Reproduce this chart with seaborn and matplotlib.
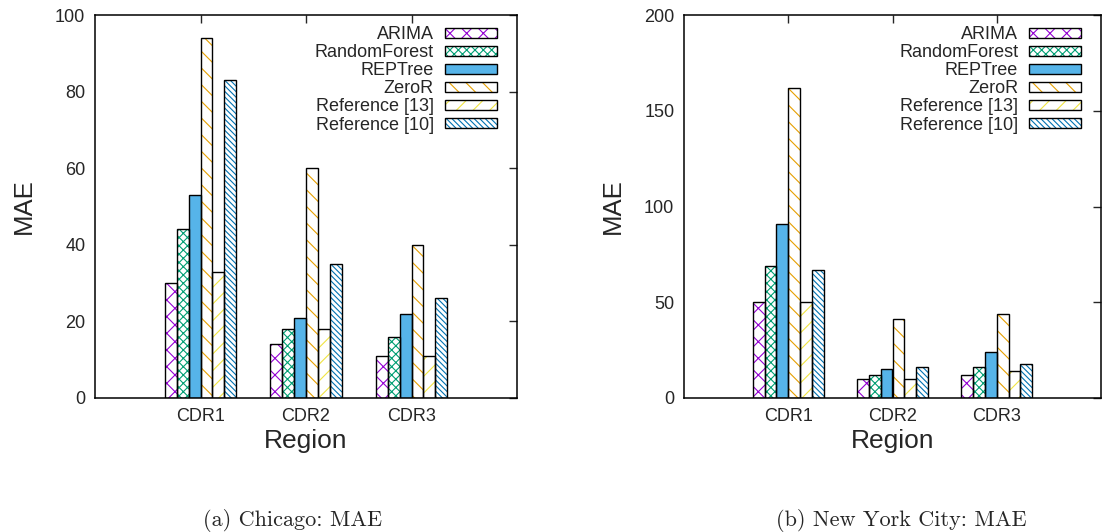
import pandas as pd
import matplotlib
matplotlib.use('Agg')
import matplotlib.pyplot as plt
from matplotlib.patches import Patch, Rectangle
import seaborn as sns

# categories
regions = ['CDR1', 'CDR2', 'CDR3']
methods = ['ARIMA', 'RandomForest', 'REPTree', 'ZeroR', 'Reference [13]', 'Reference [10]']

# Chicago MAE (one value per region)
chi_arima = [30, 14, 11]
chi_rf = [44, 18, 16]
chi_reptree = [53, 21, 22]
chi_zeror = [94, 60, 40]
chi_ref13 = [33, 18, 11]
chi_ref10 = [83, 35, 26]

# New York City MAE
nyc_arima = [50, 10, 12]
nyc_rf = [69, 12, 16]
nyc_reptree = [91, 15, 24]
nyc_zeror = [162, 41, 44]
nyc_ref13 = [50, 10, 14]
nyc_ref10 = [67, 16, 18]

# gnuplot-like styles
colors = ['#9400D3', '#009E73', '#56B4E9', '#E69F00', '#F0E442', '#0072B2']
hatches = ['xx', 'xxxx', '', '\\\\', '//', '\\' * 6]

sns.set_style('white')
plt.rcParams['font.family'] = ['Liberation Sans', 'DejaVu Sans']
plt.rcParams['hatch.linewidth'] = 0.8


def make_df(series):
    rows = []
    for m, vals in zip(methods, series):
        for r, v in zip(regions, vals):
            rows.append({'Region': r, 'Method': m, 'MAE': v})
    return pd.DataFrame(rows)


def draw(ax, df, ymax, ystep, caption, xcap):
    sns.barplot(data=df, x='Region', y='MAE', hue='Method', hue_order=methods,
                palette=colors, saturation=1, width=0.68, gap=0, errorbar=None,
                legend=False, ax=ax)
    # colored hatch + black outline on each bar
    for cont, col, h in zip(ax.containers, colors, hatches):
        for bar in cont:
            if h:
                bar.set_facecolor('white')
                bar.set_hatch(h)
            bar.set_edgecolor(col)
            bar.set_linewidth(0)
            ax.add_patch(Rectangle(bar.get_xy(), bar.get_width(), bar.get_height(),
                                   fill=False, edgecolor='black', lw=1.0, zorder=3))
    ax.set_xlim(-1, 3)
    ax.set_ylim(0, ymax)
    ax.set_yticks(range(0, ymax + 1, ystep))
    ax.set_xlabel('Region', fontsize=19, labelpad=3)
    ax.set_ylabel('MAE', fontsize=18.5, labelpad=14)
    ax.tick_params(direction='in', top=True, right=True, length=6, width=1,
                   labelsize=13, pad=7)
    for s in ax.spines.values():
        s.set_linewidth(1.1)
        s.set_color('black')

    handles = []
    for col, h in zip(colors, hatches):
        if h:
            p = Patch(facecolor='white', edgecolor=col, hatch=h, lw=0)
        else:
            p = Patch(facecolor=col, edgecolor=col, lw=0)
        handles.append((p, Patch(fill=False, edgecolor='black', lw=1.0)))
    ax.legend(handles, methods, loc='upper right', bbox_to_anchor=(0.953, 0.971),
              frameon=False, markerfirst=False, handlelength=2.9, handleheight=0.5,
              labelspacing=0.06, handletextpad=0.6, borderpad=0, borderaxespad=0,
              fontsize=13)

    ax.figure.text(xcap, 1 - 520 / 532, caption, ha='center', va='center',
                   fontsize=16, family='cmr10')


fig = plt.figure(figsize=(11.02, 5.32), dpi=100)
ax1 = fig.add_axes([95 / 1102, 134 / 532, 422 / 1102, 383 / 532])
ax2 = fig.add_axes([684 / 1102, 134 / 532, 417 / 1102, 383 / 532])

draw(ax1, make_df([chi_arima, chi_rf, chi_reptree, chi_zeror, chi_ref13, chi_ref10]),
     100, 20, '(a) Chicago: MAE', 293 / 1102)
draw(ax2, make_df([nyc_arima, nyc_rf, nyc_reptree, nyc_zeror, nyc_ref13, nyc_ref10]),
     200, 50, '(b) New York City: MAE', 901 / 1102)

fig.savefig('out.png', dpi=100)
